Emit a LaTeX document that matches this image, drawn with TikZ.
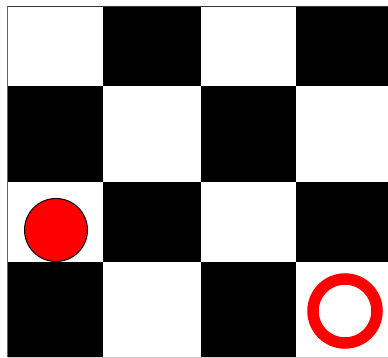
\documentclass[tikz,border=0pt]{standalone}
\usetikzlibrary{calc}
\begin{document}
\begin{tikzpicture}[
  x=1pt, y=-1pt,
  dark/.style={fill=black},
  light/.style={fill=white},
  piece/.style={circle, draw=black, fill=red, line width=1pt,
    minimum size=63pt, inner sep=0pt},
  target/.style={circle, draw=red, line width=11.5pt,
    minimum size=64pt, inner sep=0pt}
]
\useasboundingbox (0,0) rectangle (388,358);
\fill[white] (0,0) rectangle (388,358);

% board cells
\foreach \i/\xa/\xb in {0/8/103, 1/103/201, 2/201/296, 3/296/392}
  \foreach \j/\ya/\yb in {0/6/86, 1/86/182, 2/182/262, 3/262/357} {
    \pgfmathtruncatemacro{\cellpar}{mod(\i+\j,2)}
    \ifnum\cellpar=1
      \fill[dark] (\xa,\ya) rectangle (\xb,\yb);
    \else
      \fill[light] (\xa,\ya) rectangle (\xb,\yb);
    \fi
  }
\draw[black!80, line width=0.8pt] (7.5,6) -- (392,6);
\draw[black!60, line width=0.8pt] (7.5,6) -- (7.5,357);
\draw[gray!40, line width=0.6pt] (7.5,357) -- (392,357);

% pieces
\node[piece] (stone) at (56,230) {};
\node[target] (goal) at (345,311) {};
\end{tikzpicture}
\end{document}
